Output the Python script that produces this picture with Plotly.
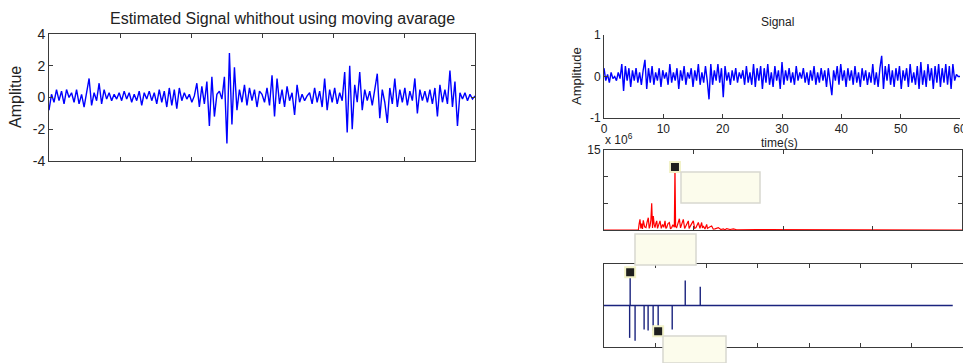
import plotly.graph_objects as go

W, H = 963, 363

# ---------------- data ----------------
est_signal = [
    -0.8, 0.2, -0.3, 0.5, -0.2, 0.4, -0.4, 0.5, 0.0, 0.3,
    -0.3, 0.5, -0.4, 0.2, -0.6, 0.4, 1.2, -0.5, 0.3, -0.2,
    0.9, -0.4, 0.5, -0.1, 0.3, -0.2, 0.2, -0.1, 0.3, -0.2,
    0.4, -0.1, 0.3, -0.3, 0.2, -0.2, 0.4, -0.5, 0.3, -0.1,
    0.4, -0.2, 0.3, -0.4, 0.5, -0.3, 0.4, -0.6, 0.6, -0.5,
    0.5, -0.7, 0.6, -0.2, 0.3, -0.1, 0.2, -0.3, 0.1, 0.9,
    -0.6, 0.7, -0.4, 1.0, -1.8, 1.3, -1.2, 0.2, 0.4, -0.1,
    1.3, -2.9, 2.8, -1.7, 1.9, -0.8, 0.5, -0.3, 0.8, -0.5,
    0.6, -0.2, 0.5, -0.6, 0.4, 0.2, -0.3, 0.6, -0.5, 1.4,
    -1.2, 1.2, -0.4, 0.5, -0.6, 0.7, -0.2, 0.3, -1.1, 0.8,
    -0.3, 0.2, -0.2, 0.1, 0.3, -0.4, 0.6, -0.3, 0.4, -0.6,
    1.2, -0.8, 0.5, -0.3, 0.6, -0.4, 0.3, -0.2, 1.6, -2.2,
    2.0, -2.0, 0.8, -0.3, 1.6, -0.8, 0.5, -0.2, 0.4, -0.5,
    0.6, 1.5, -1.3, 0.5, -0.3, -1.6, 0.6, -0.4, 1.2, -0.6,
    0.5, -0.3, 0.6, -0.5, 0.4, -0.2, 1.2, -1.0, 0.5, -0.2,
    0.4, -0.3, 0.5, -0.4, 0.6, -1.2, 0.8, -0.3, 0.5, -0.4,
    1.7, -0.6, 1.0, -1.8, 0.3, -0.1, 0.3, -0.2, 0.2, -0.1,
    0.1,
]
est_index = list(range(len(est_signal)))
est_yticks = [-4, -2, 0, 2, 4]
est_ytext = ["-4", "-2", "0", "2", "4"]

sig_values = [
    0.2, -0.1, 0.05, -0.15, 0.1, -0.05, 0.0, -0.1, 0.1, -0.05,
    0.3, -0.35, 0.25, -0.1, 0.2, -0.25, 0.15, -0.1, 0.2, -0.15,
    0.1, -0.2, 0.15, 0.4, -0.3, 0.2, -0.15, 0.25, -0.2, 0.1,
    -0.1, 0.2, -0.25, 0.15, -0.05, 0.1, -0.2, 0.3, -0.15, 0.1,
    -0.1, 0.2, -0.3, 0.15, -0.1, 0.25, -0.2, 0.1, -0.05, 0.2,
    -0.25, 0.15, -0.1, 0.3, -0.2, 0.1, -0.15, 0.25, -0.1, -0.55,
    0.3, -0.2, 0.15, -0.1, 0.3, -0.15, 0.2, -0.5, 0.25, -0.1,
    0.1, -0.2, 0.15, -0.1, 0.2, -0.15, 0.1, -0.05, 0.15, -0.2,
    0.25, -0.15, 0.1, -0.2, 0.3, -0.25, 0.2, -0.1, 0.25, -0.3,
    0.2, -0.15, 0.3, -0.2, 0.1, -0.25, 0.25, -0.1, 0.15, -0.3,
    0.35, -0.2, 0.15, -0.1, 0.2, -0.15, 0.1, -0.2, 0.25, -0.1,
    0.1, -0.05, 0.2, -0.15, 0.1, -0.2, 0.15, -0.1, 0.25, -0.2,
    0.1, -0.15, 0.2, -0.1, 0.15, -0.25, 0.2, -0.1, -0.45, 0.15,
    -0.1, 0.25, -0.2, 0.3, -0.1, 0.15, -0.25, 0.2, -0.1, 0.15,
    -0.2, 0.25, -0.15, 0.1, -0.25, 0.2, -0.1, 0.15, -0.2, 0.1,
    -0.15, 0.3, -0.2, 0.1, -0.25, 0.2, 0.5, -0.3, 0.25, -0.1,
    0.3, -0.2, 0.15, -0.25, 0.2, -0.1, 0.25, -0.3, 0.15, -0.1,
    0.2, -0.25, 0.3, -0.15, 0.1, -0.2, 0.25, -0.3, 0.35, -0.2,
    0.15, -0.25, 0.3, -0.1, 0.2, -0.3, 0.25, -0.15, 0.3, -0.25,
    0.2, -0.15, 0.3, -0.2, 0.25, -0.3, 0.3, -0.1, 0.05, 0.0,
    0.0,
]
sig_step = 0.3
sig_time = [i * sig_step for i in range(len(sig_values))]
sig_xticks = [0, 10, 20, 30, 40, 50, 60]
sig_yticks = [-1, 0, 1]
sig_ytext = ["-1", "0", "1"]

spec_freq = [0, 17.9, 38.4, 39.3, 40.2, 41.2, 42.1, 43.0, 43.9, 45.4, 46.9,
             48.2, 49.5, 50.5, 51.4, 52.4, 53.3, 54.2, 55.1, 56.0, 57.0,
             58.0, 58.9, 59.8, 60.7, 61.6, 62.6, 64.0, 65.5, 66.8, 68.2,
             69.1, 70.0, 71.5, 73.0, 74.3, 75.6, 77.0, 78.6, 79.3, 80.0,
             81.2, 82.7, 84.2, 85.5, 86.8, 87.7, 88.6, 90.1, 91.6, 92.9,
             94.2, 95.1, 96.1, 98.0, 99.8, 101.3, 102.8, 104.1, 105.4, 107.2,
             109.1, 110.0, 111.0, 112.8, 114.7, 115.6, 116.6, 118.5, 120.3,
             122.1, 124.0, 125.8, 127.7, 130.5, 133.3, 135.2, 137.1, 140.8,
             144.5, 148.2, 152.0, 159.4, 166.9, 168.7, 170.6, 400]
spec_amp = [0, 0, 0, 1.2, 2.0, 0.3, 1.2, 0.2, 1.8, 0.6, 0.45,
            1.5, 2.3, 0.3, 0.75, 1.9, 5.0, 0.4, 2.6, 1.1, 0.45,
            1.3, 1.7, 0.3, 0.75, 1.4, 1.7, 0.3, 1.05, 0.5, 1.7,
            0.3, 0.45, 1.2, 1.4, 0.2, 0.45, 1.0, 0.5, 11.8, 0.6,
            0.45, 1.6, 2.1, 0.4, 1.05, 1.8, 2.0, 0.3, 0.75, 1.3,
            1.7, 0.3, 0.75, 1.2, 1.7, 0.3, 0.45, 1.1, 1.4, 0.3,
            1.4, 0.4, 0.75, 0.2, 1.05, 0.3, 0.45, 0.6, 0.75,
            0.15, 0.2, 0.4, 0.45, 0.1, 0.2, 0.05, 0.26, 0.1,
            0.2, 0.05, 0.07, 0.03, 0.1, 0.02, 0.07, 0]
spec_xticks = [0, 100, 200, 300, 400]
spec_yticks = [0, 5, 10, 15]
spec_ytext = ["", "", "", "15"]

stem_x = [5.0, 5.1, 6.06, 7.82, 8.6, 9.58, 10.56, 13.3, 15.84, 18.77]
stem_v = [-0.78, 0.8, -0.85, -0.58, -0.6, -0.6, -0.62, -0.58, 0.6, 0.45]
stem_base = [0, 68]
stem_xticks = [0, 10, 20, 30, 40, 50, 60, 70]

# ---------------- helpers ----------------
def px(x):
    return x / W


def py(y):
    return 1 - y / H


FRAME = "#3a3a3a"
FONT = "Liberation Sans, Arial, sans-serif"

fig = go.Figure()

fig.add_trace(go.Scatter(x=est_index, y=est_signal, mode="lines",
                         line=dict(color="#0000ff", width=1.4),
                         xaxis="x", yaxis="y", hoverinfo="skip"))
fig.add_trace(go.Scatter(x=sig_time, y=sig_values, mode="lines",
                         line=dict(color="#0000ff", width=1.4),
                         xaxis="x2", yaxis="y2", hoverinfo="skip"))
fig.add_trace(go.Scatter(x=spec_freq, y=spec_amp, mode="lines",
                         line=dict(color="#ff0000", width=1.2),
                         xaxis="x3", yaxis="y3", hoverinfo="skip"))
ipk = spec_amp.index(max(spec_amp))
fig.add_trace(go.Scatter(x=[spec_freq[ipk]], y=[spec_amp[ipk]], mode="markers",
                         marker=dict(symbol="square", size=10, color="#1e1e1e",
                                     line=dict(color="#f2f2c8", width=2)),
                         xaxis="x3", yaxis="y3", cliponaxis=False, hoverinfo="skip"))
fig.add_trace(go.Scatter(x=stem_base, y=[0, 0], mode="lines",
                         line=dict(color="#1a237e", width=1.6),
                         xaxis="x4", yaxis="y4", hoverinfo="skip"))
sx, sy = [], []
for xv, vv in zip(stem_x, stem_v):
    sx += [xv, xv, None]
    sy += [0, vv, None]
fig.add_trace(go.Scatter(x=sx, y=sy, mode="lines",
                         line=dict(color="#1a237e", width=1.4),
                         xaxis="x4", yaxis="y4", hoverinfo="skip"))
mk = [stem_v.index(max(stem_v)), stem_x.index(10.56)]
fig.add_trace(go.Scatter(x=[stem_x[i] for i in mk], y=[stem_v[i] for i in mk],
                         mode="markers",
                         marker=dict(symbol="square", size=10, color="#1e1e1e",
                                     line=dict(color="#f2f2c8", width=2)),
                         xaxis="x4", yaxis="y4", cliponaxis=False, hoverinfo="skip"))


def axis(domain, rng, tickvals, ticktext=None, mirror="ticks", anchor=None,
         showline=True, size=12):
    d = dict(domain=domain, range=rng, tickvals=tickvals, ticks="inside",
             ticklen=4, tickcolor=FRAME, showline=showline, linecolor=FRAME,
             linewidth=1, mirror=mirror, showgrid=False, zeroline=False,
             automargin=False, ticklabeloverflow="allow",
             tickfont=dict(family=FONT, size=size, color="#222"),
             anchor=anchor)
    if ticktext is not None:
        d["ticktext"] = ticktext
    return d


n = len(est_signal) - 1
left_xt = [n * k / 6 for k in range(7)]

fig.update_layout(
    width=W, height=H,
    margin=dict(l=0, r=0, t=0, b=0),
    paper_bgcolor="white", plot_bgcolor="white",
    showlegend=False,
    xaxis=axis([px(49), px(475)], [0, n], left_xt, [""] * 7, anchor="y"),
    yaxis=axis([py(161), py(34)], [-4, 4], est_yticks, est_ytext, anchor="x", size=14),
    xaxis2=axis([px(604), px(960)], [0, 60], sig_xticks, mirror=False, anchor="y2", size=12),
    yaxis2=axis([py(118), py(35)], [-1, 1], sig_yticks, sig_ytext, mirror=False, anchor="x2", size=12),
    xaxis3=axis([px(604), px(962)], [0, 400], spec_xticks, [""] * 5, anchor="y3"),
    yaxis3=axis([py(230), py(150)], [0, 15], spec_yticks, spec_ytext, anchor="x3", size=12),
    xaxis4=axis([px(604), 1.0], [0, 70], stem_xticks, [""] * 8, anchor="y4"),
    yaxis4=axis([py(347), py(264)], [-1, 1], [], anchor="x4"),
)

ann = dict(showarrow=False, xref="paper", yref="paper")
fig.add_annotation(text="Estimated Signal whithout using moving avarage",
                   x=px(282), y=py(19), xanchor="center", yanchor="middle",
                   font=dict(family=FONT, size=16, color="#222"), **ann)
fig.add_annotation(text="Amplitue", x=px(16), y=py(97), textangle=-90,
                   xanchor="center", yanchor="middle",
                   font=dict(family=FONT, size=16, color="#222"), **ann)
fig.add_annotation(text="Signal", x=px(777), y=py(22), xanchor="center",
                   yanchor="middle",
                   font=dict(family=FONT, size=12, color="#222"), **ann)
fig.add_annotation(text="Amplitude", x=px(576), y=py(76), textangle=-90,
                   xanchor="center", yanchor="middle",
                   font=dict(family=FONT, size=13, color="#222"), **ann)
fig.add_annotation(text="time(s)", x=px(779), y=py(143), xanchor="center",
                   yanchor="middle",
                   font=dict(family=FONT, size=12, color="#222"), **ann)
fig.add_annotation(text="x 10<sup>6</sup>", x=px(603), y=py(139), xanchor="left",
                   yanchor="middle",
                   font=dict(family=FONT, size=12, color="#222"), **ann)

for (x0, y0, x1, y1) in [(681, 172, 760, 203), (635, 234, 696, 265), (663, 336, 726, 363)]:
    fig.add_shape(type="rect", xref="paper", yref="paper",
                  x0=px(x0), x1=px(x1), y0=py(y1), y1=py(y0),
                  fillcolor="#fcfcec", line=dict(color="#d8d8d0", width=1.5),
                  layer="above")

fig.write_html("out.html", config={"displayModeBar": False},
               post_script="document.body.style.margin='0';document.body.style.overflow='hidden';")
